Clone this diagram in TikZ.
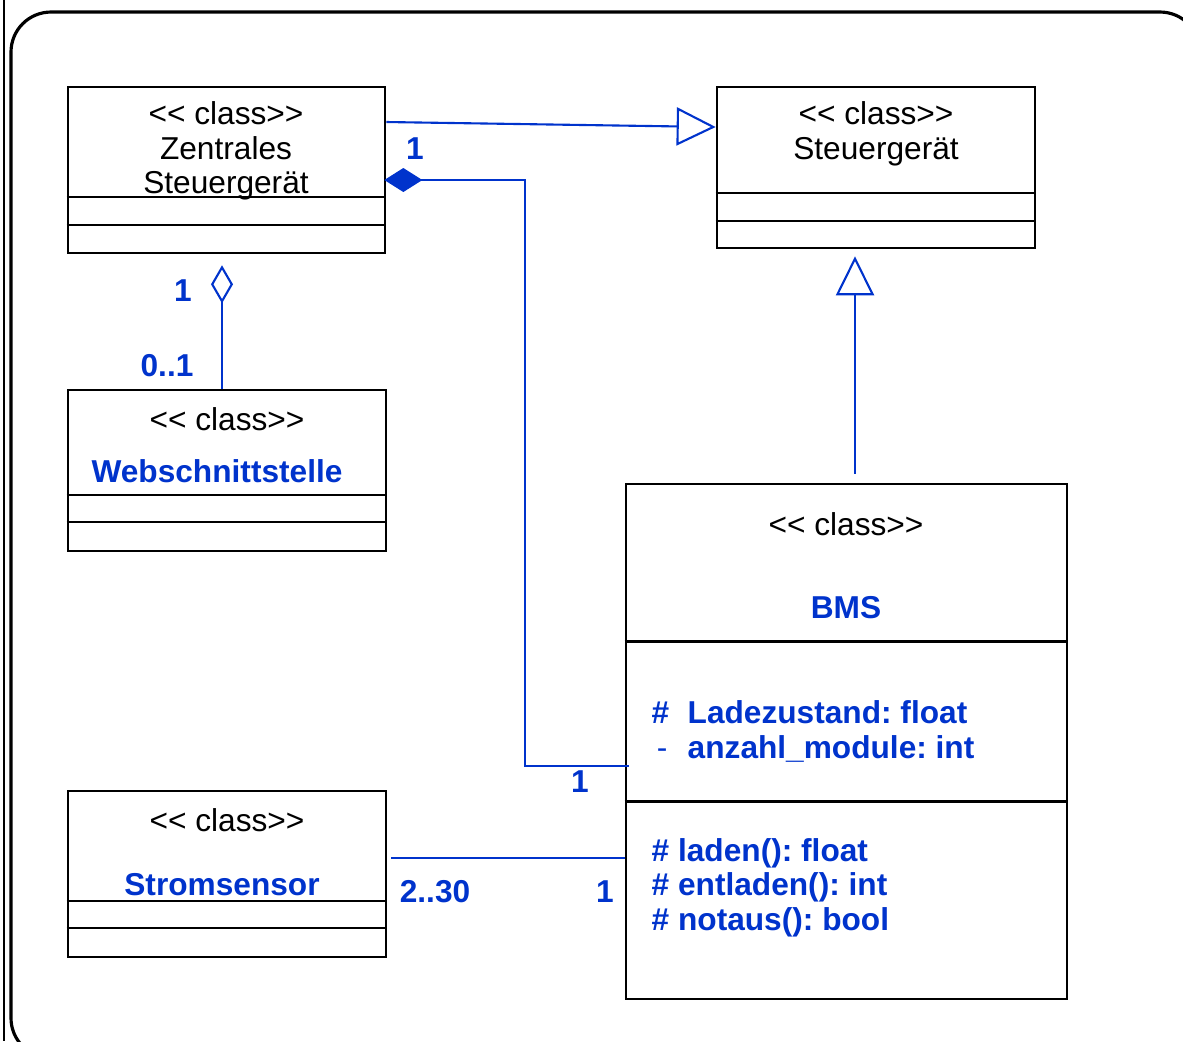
\documentclass[tikz,border=0pt]{standalone}
\usepackage{fontspec}
\setmainfont{Liberation Sans}
\usetikzlibrary{arrows.meta,positioning,calc}
\definecolor{umlblue}{RGB}{0,51,204}
\newcommand{\umlfont}{\fontsize{9}{9.8}\selectfont\frenchspacing}
\newcommand{\stereotype}{{<}{<} class{>}{>}}

\begin{document}
\begin{tikzpicture}[x=0.01cm, y=-0.01cm, font=\umlfont,
    classbox/.style={draw, rectangle, line width=0.7pt, inner sep=0pt},
    link/.style={draw=umlblue, line width=0.6pt},
    gen/.style={link, -{Triangle[open, length=0.39cm, width=0.38cm]}},
    comp/.style={link, -{Diamond[length=0.38cm, width=0.24cm]}},
    aggr/.style={link, -{Diamond[open, length=0.38cm, width=0.22cm]}},
    stereo/.style={inner sep=0pt, align=center, font=\umlfont},
    cname/.style={inner sep=0pt, text=umlblue, font=\umlfont\bfseries},
    mult/.style={inner sep=0pt, text=umlblue, font=\umlfont\bfseries}]
    \useasboundingbox (0,0) rectangle (1183,1041);
    \clip (0,0) rectangle (1183,1041);
    % frame
    \draw[line width=0.4pt] (4,0) -- (4,1041);
    \draw[line width=0.9pt, rounded corners=0.4cm] (11,12) rectangle (1200,1058);
    % Zentrales Steuergeraet
    \node[classbox, minimum width=3.17cm, minimum height=1.66cm] (zsg) at (226.5,170) {};
    \node[stereo] (zsgtxt) at (226,151) {\stereotype\\Zentrales\\Steuergerät};
    \draw[line width=0.7pt] ($(zsg.north west)+(0,111)$) -- ($(zsg.north east)+(0,111)$);
    \draw[line width=0.7pt] ($(zsg.north west)+(0,139)$) -- ($(zsg.north east)+(0,139)$);
    % Steuergeraet
    \node[classbox, minimum width=3.18cm, minimum height=1.61cm] (sg) at (876,167.5) {};
    \node[stereo] (sgtxt) at (876,134) {\stereotype\\Steuergerät};
    \draw[line width=0.7pt] ($(sg.north west)+(0,107)$) -- ($(sg.north east)+(0,107)$);
    \draw[line width=0.7pt] ($(sg.north west)+(0,135)$) -- ($(sg.north east)+(0,135)$);
    % Webschnittstelle
    \node[classbox, minimum width=3.18cm, minimum height=1.61cm] (web) at (227,470.5) {};
    \node[stereo] (webst) at (227,419) {\stereotype};
    \node[cname] (webname) at (217,471) {Webschnittstelle};
    \draw[line width=0.7pt] ($(web.north west)+(0,106)$) -- ($(web.north east)+(0,106)$);
    \draw[line width=0.7pt] ($(web.north west)+(0,133)$) -- ($(web.north east)+(0,133)$);
    % Stromsensor
    \node[classbox, minimum width=3.18cm, minimum height=1.66cm] (strom) at (227,874) {};
    \node[stereo] (stromst) at (227,820) {\stereotype};
    \node[cname] (stromname) at (222,885) {Stromsensor};
    \draw[line width=0.7pt] ($(strom.north west)+(0,111)$) -- ($(strom.north east)+(0,111)$);
    \draw[line width=0.7pt] ($(strom.north west)+(0,138)$) -- ($(strom.north east)+(0,138)$);
    % BMS
    \node[classbox, minimum width=4.41cm, minimum height=5.15cm] (bms) at (846.5,741.5) {};
    \node[stereo] (bmsst) at (846,524) {\stereotype};
    \node[cname] (bmsname) at (846,608) {BMS};
    \draw[line width=0.7pt] ($(bms.north west)+(0,159)$) -- ($(bms.north east)+(0,159)$);
    \draw[line width=0.7pt] ($(bms.north west)+(0,319)$) -- ($(bms.north east)+(0,319)$);
    \node[cname, anchor=west, align=left] (bmsattr) at (651,731.5)
      {\makebox[0.36cm][l]{\#}Ladezustand: float\\\makebox[0.36cm][l]{\,\mdseries-}anzahl\_module: int};
    \node[cname, anchor=west, align=left] (bmsops) at (651,887.5)
      {\# laden(): float\\\# entladen(): int\\\# notaus(): bool};
    % inheritance
    \draw[gen] ($(zsg.east)+(0,-48)$) -- ($(sg.west)+(0,-40.5)$);
    \draw[gen] ($(bms.north)+(8.5,-9)$) -- ($(sg.south)+(-21,7)$);
    % composition
    \coordinate (bend) at (525,180);
    \draw[comp] ($(bms.west)+(4,24.5)$) -| (bend) -- ($(zsg.east)+(-2,10)$);
    \node[mult] (m1) at (415,149) {1};
    \node[mult] (m2) at (580,782) {1};
    % aggregation
    \draw[aggr] ($(web.north)+(-5,0)$) -- ($(zsg.south)+(-4.5,11)$);
    \node[mult] (m3) at (183,291) {1};
    \node[mult] (m4) at (167,366) {0..1};
    % association
    \draw[link] ($(strom.east)+(4,-16)$) -- ($(bms.west)+(0,116.5)$);
    \node[mult] (m5) at (435,892) {2..30};
    \node[mult] (m6) at (605,892) {1};
\end{tikzpicture}
\end{document}
